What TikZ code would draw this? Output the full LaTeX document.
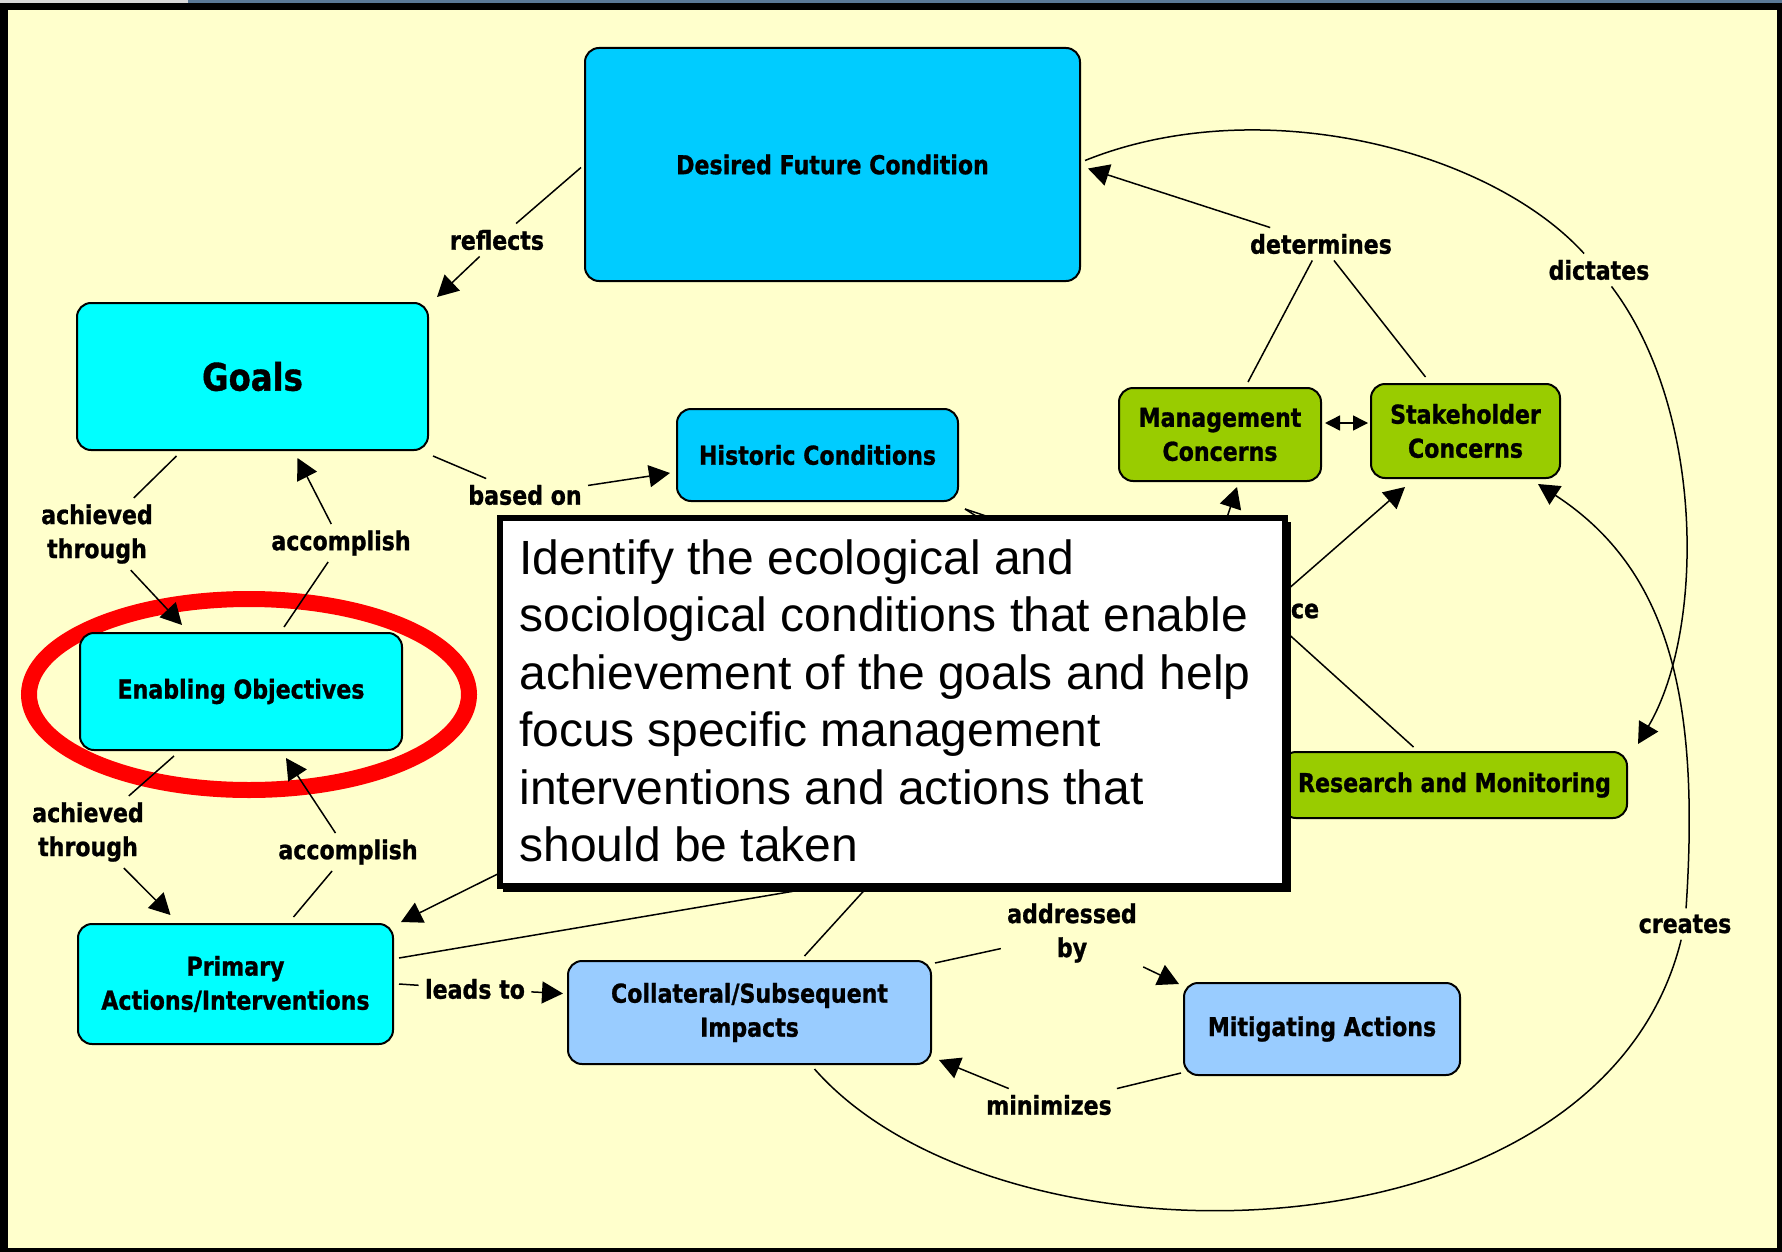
\documentclass[tikz,border=0pt]{standalone}
\usepackage{fontspec}
\usetikzlibrary{arrows.meta,calc}
\newfontfamily\lblfont{DejaVu Sans}[FakeStretch=0.85,FakeBold=1]
\newfontfamily\boxfont{Liberation Sans}
\definecolor{bgyellow}{HTML}{FFFFCC}
\definecolor{deepblue}{HTML}{00CCFF}
\definecolor{cyanfill}{HTML}{00FFFF}
\definecolor{greenfill}{HTML}{99CC00}
\definecolor{lightblue}{HTML}{99CCFF}
\definecolor{topstrip}{HTML}{5A7896}
\begin{document}
\begin{tikzpicture}[x=0.5pt,y=-0.5pt,
  concept/.style={draw=black, line width=1pt, rounded corners=7pt, inner sep=0pt, align=center,
    font={\lblfont\bfseries\fontsize{13}{17}\selectfont}},
  linklabel/.style={inner sep=3pt, align=center, font={\lblfont\bfseries\fontsize{13}{17}\selectfont}},
  conn/.style={line width=0.75pt},
  arr/.style={line width=0.75pt, -{Triangle[length=10.5pt,width=11pt]}},
  boxline/.style={inner sep=0pt, anchor=base west, font={\boxfont\fontsize{24}{28.75}\selectfont}}
]
\useasboundingbox (0,0) rectangle (1782,1252);
% frame
\fill[black] (0,0) rectangle (1782,1252);
\fill[topstrip] (0,0) rectangle (1782,3);
\fill[gray!30] (0,0) rectangle (188,3);
\fill[bgyellow] (8,10) rectangle (1777,1248);

% highlight ellipse
\draw[red, line width=8pt] (249,694.5) ellipse [x radius=110pt, y radius=47.75pt];

% concepts
\node[concept, fill=deepblue, minimum width=247.5pt, minimum height=116.5pt] (dfc) at (832.5,164.5) {Desired Future Condition};
\node[concept, fill=cyanfill, minimum width=175.5pt, minimum height=73.5pt, font={\lblfont\bfseries\fontsize{19}{23}\selectfont}] (goals) at (252.5,376.5) {Goals};
\node[concept, fill=deepblue, minimum width=140.5pt, minimum height=46pt] (hist) at (817.5,455) {Historic Conditions};
\node[concept, fill=greenfill, minimum width=101pt, minimum height=46.5pt] (mgmt) at (1220,434.5) {Management\\Concerns};
\node[concept, fill=greenfill, minimum width=94.5pt, minimum height=47pt] (stake) at (1465.5,431) {Stakeholder\\Concerns};
\node[concept, fill=cyanfill, minimum width=161pt, minimum height=58.5pt] (enab) at (241,691.5) {Enabling Objectives};
\node[concept, fill=greenfill, minimum width=172.5pt, minimum height=33pt] (research) at (1454.5,785) {Research and Monitoring};
\node[concept, fill=cyanfill, minimum width=157.5pt, minimum height=60pt] (prim) at (235.5,984) {Primary\\Actions/Interventions};
\node[concept, fill=lightblue, minimum width=181.5pt, minimum height=51.5pt] (col) at (749.5,1012.5) {Collateral/Subsequent\\Impacts};
\node[concept, fill=lightblue, minimum width=138pt, minimum height=46pt] (mit) at (1322,1029) {Mitigating Actions};

% link labels
\node[linklabel] (reflects) at (497,240) {reflects};
\node[linklabel] (ach1) at (97,534) {achieved\\through};
\node[linklabel] (acc1) at (341,543) {accomplish};
\node[linklabel] (basedon) at (525,495) {based on};
\node[linklabel] (determines) at (1321,244) {determines};
\node[linklabel] (dictates) at (1599,270) {dictates};
\node[linklabel] (ach2) at (88,832) {achieved\\through};
\node[linklabel] (acc2) at (348,852) {accomplish};
\node[linklabel] (leadsto) at (475,989) {leads to};
\node[linklabel] (addressed) at (1072,933) {addressed\\by};
\node[linklabel] (minimizes) at (1049,1105) {minimizes};
\node[linklabel] (creates) at (1685,924) {creates};
\node[linklabel] (ce) at (1305,611) {ce};

% hidden ends (under the note box)
\coordinate (hk) at (830,885);
\coordinate (hl) at (540,853);
\coordinate (hm) at (880,873);
\coordinate (hp) at (1219,542);
\coordinate (hq) at (1263,611);
\coordinate (he) at ($(hist.south east)+(6,7)$);

% connectors
\draw[conn] ($(dfc.west)+(-3,3)$) -- (reflects);
\draw[arr] (reflects) -- ($(goals.north east)+(8,-5)$);
\draw[conn] ($(goals.south)+(-76,5)$) -- (ach1);
\draw[arr] (ach1) -- ($(enab.north)+(-59,-7)$);
\draw[conn] ($(enab.north)+(43,-5)$) -- (acc1);
\draw[arr] (acc1) -- ($(goals.south)+(45,7)$);
\draw[conn] ($(goals.south east)+(4,5)$) -- (basedon);
\draw[arr] (basedon) -- ($(hist.west)+(-6,18)$);
\draw[conn] ($(mgmt.north)+(28,-5)$) -- (determines);
\draw[conn] ($(stake.north)+(-40,-6)$) -- (determines);
\draw[arr] (determines) -- ($(dfc.east)+(7,4)$);
\draw[line width=0.75pt, {Triangle[length=7.5pt,width=7.5pt]}-{Triangle[length=7.5pt,width=7.5pt]}] ($(mgmt.east)+(3,-11.5)$) -- ($(stake.west)+(-2,-8)$);
\draw[conn] ($(dfc.east)+(4,-4)$) .. controls (1260,90) and (1490,150) .. (dictates);
\draw[arr] (dictates) .. controls (1705,410) and (1705,630) .. ($(research.north east)+(10,-7)$);
\draw[conn] ($(enab.south)+(-67,5)$) -- (ach2);
\draw[arr] (ach2) -- ($(prim.north)+(-65,-8)$);
\draw[conn] ($(prim.north)+(58,-6)$) -- (acc2);
\draw[arr] (acc2) -- ($(enab.south)+(45,7)$);
\draw[conn] ($(prim.east)+(5,0)$) -- (leadsto);
\draw[arr] (leadsto) -- ($(col.west)+(-4,-19)$);
\draw[conn] ($(col.north east)+(3,3)$) -- (addressed);
\draw[arr] (addressed) -- ($(mit.north west)+(-4,2)$);
\draw[conn] ($(mit.south west)+(-2,-3)$) -- (minimizes);
\draw[arr] (minimizes) -- ($(col.south east)+(7,-5)$);
\draw[conn] ($(col.south)+(65,4)$) .. controls (1000,1280) and (1600,1270) .. (creates);
\draw[arr] (creates) .. controls (1700,700) and (1670,570) .. ($(stake.south east)+(-23,5)$);
\draw[conn] ($(prim.east)+(5,-26)$) -- (hk);
\draw[arr] (hl) -- ($(prim.north east)+(7,-1)$);
\draw[conn] ($(col.north)+(55,-4)$) -- (hm);
\draw[arr] (hp) -- ($(mgmt.south)+(17,5)$);
\draw[arr] (hq) -- ($(stake.south west)+(35,8)$);
\draw[conn] (hq) -- ($(research.north)+(-41,-4)$);
\draw[conn] (he) -- ++(30,10);
\draw[conn] (he) -- ++(22,14);

% note box
\fill[black] (503,522) rectangle (1291,892);
\node[draw=black, fill=white, line width=3pt, minimum width=392.5pt, minimum height=184pt, inner sep=0pt] (note) at (892.5,702) {};
\node[boxline] (tl1) at (519,574) {Identify the ecological and};
\node[boxline] (tl2) at (519,631.5) {sociological conditions that enable};
\node[boxline] (tl3) at (519,689) {achievement of the goals and help};
\node[boxline] (tl4) at (519,746.5) {focus specific management};
\node[boxline] (tl5) at (519,804) {interventions and actions that};
\node[boxline] (tl6) at (519,861.5) {should be taken};
\end{tikzpicture}
\end{document}
